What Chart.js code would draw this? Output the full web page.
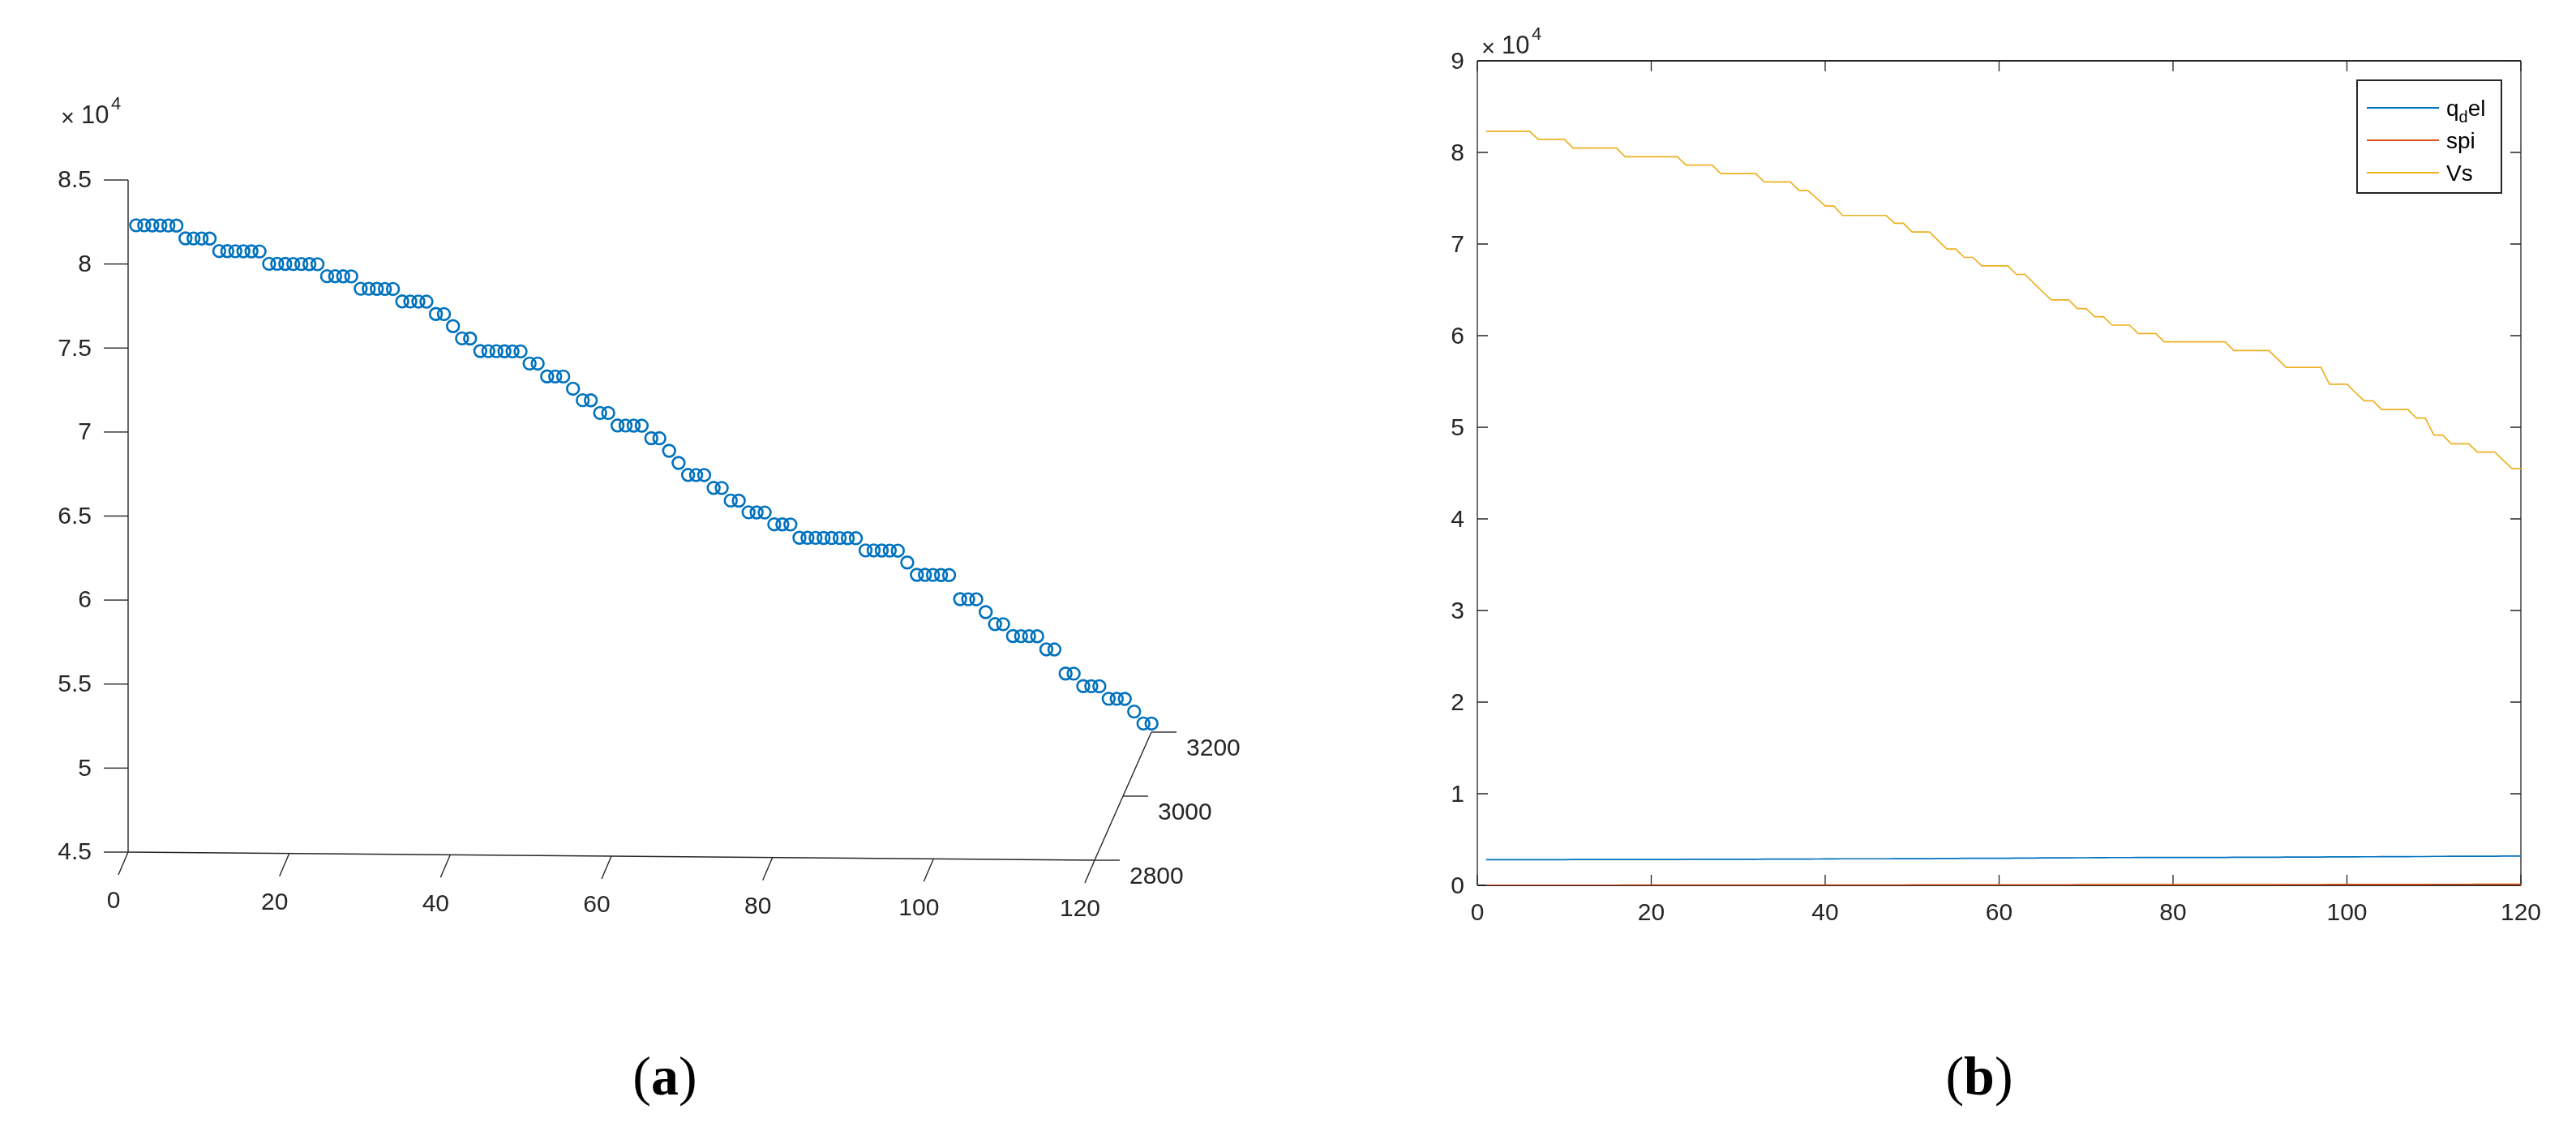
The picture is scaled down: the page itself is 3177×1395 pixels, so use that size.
<!DOCTYPE html>
<html>
<head>
<meta charset="utf-8">
<script src="https://cdn.jsdelivr.net/npm/chart.js@4.4.0/dist/chart.umd.min.js"></script>
<style>
  html, body { margin: 0; padding: 0; background: #fff; }
  body { width: 3177px; height: 1395px; position: relative; overflow: hidden; }
  #chartA { position: absolute; left: 0; top: 0; }
  #chartB { position: absolute; left: 1600px; top: 0; }
  .cap { position: absolute; top: 1327px; font-family: "Liberation Serif", serif; font-size: 68px;
         line-height: 1; color: #000; transform: translate(-50%, -50%); white-space: nowrap; }
</style>
</head>
<body>
<canvas id="chartA" width="1600" height="1250"></canvas>
<canvas id="chartB" width="1577" height="1250"></canvas>
<div class="cap" style="left:820px">(<b>a</b>)</div>
<div class="cap" style="left:2441px">(<b>b</b>)</div>
<script>
// sample index 1..120
const steps = [];
for (let k = 1; k <= 120; k++) steps.push(k);

const vs = [
  82310, 82310, 82310, 82310, 82310, 82310, 81420, 81420, 81420, 81420,
  80470, 80470, 80470, 80470, 80470, 80470, 79530, 79530, 79530, 79530,
  79530, 79530, 79530, 78610, 78610, 78610, 78610, 77690, 77690, 77690,
  77690, 77690, 76780, 76780, 76780, 76780, 75860, 75860, 75010, 74150,
  74150, 73120, 73120, 73120, 73120, 73120, 73120, 72270, 72270, 71320,
  71320, 71320, 70370, 69460, 69460, 68540, 68540, 67630, 67630, 67630,
  67630, 66680, 66680, 65710, 64800, 63900, 63900, 63900, 62950, 62950,
  62070, 62070, 61150, 61150, 61150, 60240, 60240, 60240, 59320, 59320,
  59320, 59320, 59320, 59320, 59320, 59320, 58370, 58370, 58370, 58370,
  58370, 57480, 56540, 56540, 56540, 56540, 56540, 54710, 54710, 54710,
  53760, 52880, 52880, 51930, 51930, 51930, 51930, 51000, 51000, 49150,
  49150, 48200, 48200, 48200, 47290, 47290, 47290, 46370, 45490, 45490
];

const qDel = [
  2800, 2800, 2800, 2800, 2800, 2800, 2807, 2807, 2807, 2807,
  2818, 2818, 2818, 2818, 2818, 2818, 2829, 2829, 2829, 2829,
  2829, 2829, 2829, 2840, 2840, 2840, 2840, 2850, 2850, 2850,
  2850, 2850, 2859, 2859, 2859, 2859, 2869, 2869, 2876, 2883,
  2883, 2898, 2898, 2898, 2898, 2898, 2898, 2905, 2905, 2915,
  2915, 2915, 2927, 2939, 2939, 2948, 2948, 2957, 2957, 2957,
  2957, 2968, 2968, 2980, 2990, 3000, 3000, 3000, 3010, 3010,
  3017, 3017, 3029, 3029, 3029, 3040, 3040, 3040, 3047, 3047,
  3047, 3047, 3047, 3047, 3047, 3047, 3059, 3059, 3059, 3059,
  3059, 3069, 3080, 3080, 3080, 3080, 3080, 3101, 3101, 3101,
  3111, 3120, 3120, 3133, 3133, 3133, 3133, 3141, 3141, 3163,
  3163, 3174, 3174, 3174, 3183, 3183, 3183, 3192, 3201, 3201
];

const spi = [
  18, 18, 18, 18, 18, 18, 20, 20, 20, 20,
  23, 23, 23, 23, 23, 23, 25, 25, 25, 25,
  25, 25, 25, 28, 28, 28, 28, 30, 30, 30,
  30, 30, 33, 33, 33, 33, 35, 35, 37, 39,
  39, 42, 42, 42, 42, 42, 42, 44, 44, 47,
  47, 47, 50, 53, 53, 55, 55, 57, 57, 57,
  57, 60, 60, 63, 65, 68, 68, 68, 70, 70,
  72, 72, 75, 75, 75, 78, 78, 78, 80, 80,
  80, 80, 80, 80, 80, 80, 83, 83, 83, 83,
  83, 85, 88, 88, 88, 88, 88, 93, 93, 93,
  96, 98, 98, 101, 101, 101, 101, 103, 103, 109,
  109, 111, 111, 111, 114, 114, 114, 116, 118, 118
];

// tick labels
const aVsTicks = [45000, 50000, 55000, 60000, 65000, 70000, 75000, 80000, 85000];
const aStepTicks = [0, 20, 40, 60, 80, 100, 120];
const aQTicks = [2800, 3000, 3200];
const bYTicks = [0, 10000, 20000, 30000, 40000, 50000, 60000, 70000, 80000, 90000];
const bXTicks = [0, 20, 40, 60, 80, 100, 120];

const TXT = '#262626';
const FONT = '"Liberation Sans", Arial, Helvetica, sans-serif';

// fixed 3D view of panel (a): how one unit of q_del / step moves a point in the 2D scales
const VIEW = { q0: 2800, kx: 0.01762, ky: 19.06, ki: 4.02 };
function project(i, q, v) {
    return { x: i + (q - VIEW.q0) * VIEW.kx, y: v - i * VIEW.ki + (q - VIEW.q0) * VIEW.ky };
}

function fmtTick(v) {
    return String(v / 10000);
}

function drawPow(ctx, x, base) {
    ctx.textAlign = 'left';
    ctx.textBaseline = 'alphabetic';
    ctx.font = '29px ' + FONT;
    ctx.fillText('\u00d7', x, base + 3);
    ctx.font = '31px ' + FONT;
    ctx.fillText('10', x + 25, base);
    ctx.font = '22px ' + FONT;
    ctx.fillText('4', x + 62, base - 17);
}

const axes3d = {
    id: 'axes3d',
    beforeDatasetsDraw(chart) {
        const { ctx, scales: { x, y } } = chart;
        const P = (i, q, v) => {
            const p = project(i, q, v);
            return [x.getPixelForValue(p.x), y.getPixelForValue(p.y)];
        };
        const seg = (a, b) => { ctx.beginPath(); ctx.moveTo(a[0], a[1]); ctx.lineTo(b[0], b[1]); ctx.stroke(); };

        ctx.save();
        ctx.strokeStyle = TXT;
        ctx.fillStyle = TXT;
        ctx.lineWidth = 1.4;

        seg(P(0, 2800, 45000), P(0, 2800, 85000));
        seg(P(0, 2800, 45000), P(120, 2800, 45000));
        seg(P(120, 2800, 45000), P(120, 3200, 45000));

        ctx.font = '30px ' + FONT;
        ctx.textBaseline = 'middle';
        ctx.textAlign = 'right';
        aVsTicks.forEach(v => {
            const [px, py] = P(0, 2800, v);
            seg([px - 30, py], [px, py]);
            ctx.fillText(fmtTick(v), px - 45, py + 1);
        });

        ctx.textAlign = 'center';
        aStepTicks.forEach(t => {
            const [px, py] = P(t, 2800, 45000);
            seg([px, py], [px - 12, py + 28]);
            ctx.fillText(String(t), px - 18, py + 61);
        });

        ctx.textAlign = 'left';
        aQTicks.forEach(q => {
            const [px, py] = P(120, q, 45000);
            seg([px, py], [px + 31, py]);
            ctx.fillText(String(q), px + 43, py + 21);
        });

        drawPow(ctx, 75, 152);
        ctx.restore();
    }
};

const boxAxes = {
    id: 'boxAxes',
    beforeDatasetsDraw(chart) {
        const { ctx, chartArea: a, scales: { x, y } } = chart;
        ctx.save();
        ctx.lineWidth = 2;
        ctx.strokeStyle = '#6e6e6e';
        ctx.beginPath();
        ctx.moveTo(a.left, a.top); ctx.lineTo(a.left, a.bottom);
        ctx.moveTo(a.right, a.top); ctx.lineTo(a.right, a.bottom);
        ctx.stroke();
        ctx.strokeStyle = TXT;
        ctx.beginPath();
        ctx.moveTo(a.left, a.top); ctx.lineTo(a.right, a.top);
        ctx.moveTo(a.left, a.bottom); ctx.lineTo(a.right, a.bottom);
        ctx.stroke();

        ctx.lineWidth = 1.3;
        ctx.beginPath();
        bXTicks.forEach(t => {
            const px = x.getPixelForValue(t);
            ctx.moveTo(px, a.bottom); ctx.lineTo(px, a.bottom - 13);
            ctx.moveTo(px, a.top); ctx.lineTo(px, a.top + 13);
        });
        bYTicks.forEach(t => {
            const py = y.getPixelForValue(t);
            ctx.moveTo(a.left, py); ctx.lineTo(a.left + 13, py);
            ctx.moveTo(a.right, py); ctx.lineTo(a.right - 13, py);
        });
        ctx.stroke();

        ctx.fillStyle = TXT;
        ctx.font = '30px ' + FONT;
        ctx.textBaseline = 'middle';
        ctx.textAlign = 'right';
        bYTicks.forEach(t => ctx.fillText(fmtTick(t), a.left - 16, y.getPixelForValue(t) + 2));
        ctx.textAlign = 'center';
        bXTicks.forEach(t => ctx.fillText(String(t), x.getPixelForValue(t), a.bottom + 35));

        drawPow(ctx, a.left + 5, 66);
        ctx.restore();
    },
    afterDatasetsDraw(chart) {
        const { ctx } = chart;
        const box = { l: 1307, t: 99, r: 1485, b: 238 };
        ctx.save();
        ctx.fillStyle = '#fff';
        ctx.fillRect(box.l, box.t, box.r - box.l, box.b - box.t);
        ctx.strokeStyle = TXT;
        ctx.lineWidth = 2;
        ctx.strokeRect(box.l, box.t, box.r - box.l, box.b - box.t);

        chart.data.datasets.forEach((ds, k) => {
            const yy = 133 + k * 40;
            ctx.strokeStyle = ds.borderColor;
            ctx.lineWidth = 2;
            ctx.beginPath();
            ctx.moveTo(box.l + 12, yy); ctx.lineTo(box.l + 101, yy);
            ctx.stroke();
            ctx.fillStyle = '#000';
            ctx.textAlign = 'left';
            ctx.textBaseline = 'alphabetic';
            let tx = box.l + 110;
            const base = yy + 10;
            if (ds.label === 'q_del') {
                ctx.font = '28px ' + FONT;
                ctx.fillText('q', tx, base);
                tx += ctx.measureText('q').width;
                ctx.font = '20px ' + FONT;
                ctx.fillText('d', tx, base + 8);
                tx += ctx.measureText('d').width;
                ctx.font = '28px ' + FONT;
                ctx.fillText('el', tx, base);
            } else {
                ctx.font = '28px ' + FONT;
                ctx.fillText(ds.label, tx, base);
            }
        });
        ctx.restore();
    }
};

const pointsA = steps.map((s, k) => project(s, qDel[k], vs[k]));

// x range extended past 120 so the points pushed right by the depth axis stay drawn;
// padding keeps step 0 at x=158 and step 120 at x=1350
new Chart(document.getElementById('chartA'), {
    type: 'scatter',
    data: {
        datasets: [{
            label: 'Vs',
            data: pointsA,
            pointStyle: 'circle',
            pointRadius: 7.4,
            pointBorderWidth: 2.6,
            pointBorderColor: '#0072BD',
            pointBackgroundColor: 'rgba(0,0,0,0)',
            borderColor: '#0072BD',
            clip: false
        }]
    },
    options: {
        responsive: false,
        animation: false,
        devicePixelRatio: 1,
        events: [],
        layout: { padding: { left: 158, right: 1600 - 158 - 9.9333 * 140, top: 222, bottom: 199 } },
        plugins: { legend: { display: false }, tooltip: { enabled: false } },
        scales: {
            x: { type: 'linear', min: 0, max: 140, display: false },
            y: { type: 'linear', min: 45000, max: 85000, display: false }
        }
    },
    plugins: [axes3d]
});

function series(values) {
    return steps.map((s, k) => ({ x: s, y: values[k] }));
}

new Chart(document.getElementById('chartB'), {
    type: 'line',
    data: {
        datasets: [
            { label: 'q_del', data: series(qDel), borderColor: '#0072BD', borderWidth: 1.7, pointRadius: 0, tension: 0 },
            { label: 'spi', data: series(spi), borderColor: '#D95319', borderWidth: 1.7, pointRadius: 0, tension: 0 },
            { label: 'Vs', data: series(vs), borderColor: '#EDB120', borderWidth: 1.7, pointRadius: 0, tension: 0 }
        ]
    },
    options: {
        responsive: false,
        animation: false,
        devicePixelRatio: 1,
        events: [],
        layout: { padding: { left: 222, right: 68, top: 75, bottom: 158 } },
        plugins: { legend: { display: false }, tooltip: { enabled: false } },
        scales: {
            x: { type: 'linear', min: 0, max: 120, display: false },
            y: { type: 'linear', min: 0, max: 90000, display: false }
        }
    },
    plugins: [boxAxes]
});
</script>
</body>
</html>
